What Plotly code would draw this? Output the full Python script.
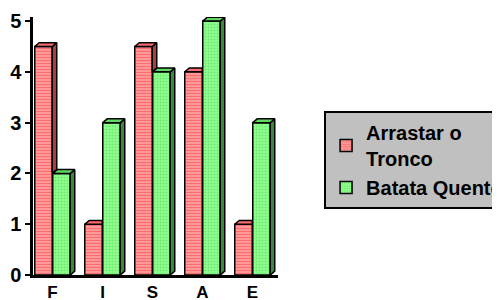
import plotly.graph_objects as go

categories = ["F", "I", "S", "A", "E"]
arrastar = [4.5, 1, 4.5, 4, 1]
batata = [2, 3, 4, 5, 3]
series_names = ["Arrastar o<br>Tronco", "Batata Quente"]
y_ticks = [0, 1, 2, 3, 4, 5]

xs = list(range(len(categories)))
off = 0.18
w = 0.35
dx = 0.09
dy = 0.075

FONT = "Liberation Sans, Arial, sans-serif"

fig = go.Figure()

fig.add_trace(go.Bar(
    x=[i - off for i in xs], y=arrastar, width=w, name=series_names[0],
    marker=dict(color="#ff8a8a", line=dict(color="black", width=1.5),
                pattern=dict(shape="-", fgcolor="#ff3030", bgcolor="#ffa8a8",
                             size=3, solidity=0.5)),
))
fig.add_trace(go.Bar(
    x=[i + off for i in xs], y=batata, width=w, name=series_names[1],
    marker=dict(color="#88ff88", line=dict(color="black", width=1.5),
                pattern=dict(shape=".", fgcolor="#50d050", bgcolor="#90ff90",
                             size=3, solidity=0.4)),
))


def faces(values, centers, other=None):
    sx, sy, tx, ty = [], [], [], []
    for k, (c, v) in enumerate(zip(centers, values)):
        x0, x1 = c - w / 2, c + w / 2
        lo = 0
        if other is not None:
            o = other[k]
            if o >= v:
                tx += [x0, x0 + dx, x1, x1, x0, None]
                ty += [v, v + dy, v + dy, v, v, None]
                continue
            lo = o
        sx += [x1, x1 + dx, x1 + dx, x1, x1, None]
        sy += [lo, lo + dy, v + dy, v, lo, None]
        tx += [x0, x0 + dx, x1 + dx, x1, x0, None]
        ty += [v, v + dy, v + dy, v, v, None]
    return sx, sy, tx, ty


rsx, rsy, rtx, rty = faces(arrastar, [i - off for i in xs], other=batata)
gsx, gsy, gtx, gty = faces(batata, [i + off for i in xs])

for fx, fy, col in [(rsx, rsy, "#a84040"), (rtx, rty, "#ff6a6a"),
                    (gsx, gsy, "#3a8a3a"), (gtx, gty, "#5ed85e")]:
    fig.add_trace(go.Scatter(
        x=fx, y=fy, mode="lines", fill="toself", fillcolor=col,
        line=dict(color="black", width=1.5), showlegend=False,
        hoverinfo="skip",
    ))

fig.update_layout(
    width=492, height=292,
    margin=dict(l=25, r=222, t=9, b=25, autoexpand=False),
    paper_bgcolor="white", plot_bgcolor="white",
    font=dict(family=FONT, size=19, color="black", weight="bold"),
    showlegend=True,
    barmode="overlay",
    legend=dict(
        x=1.188, y=0.636, xanchor="left", yanchor="top",
        bgcolor="#c0c0c0", bordercolor="black", borderwidth=2,
        font=dict(family=FONT, size=20, color="black", weight="bold"),
        itemwidth=30, tracegroupgap=4,
    ),
    xaxis=dict(
        range=[-0.39, 4.51], tickvals=xs, ticktext=categories,
        showline=True, linecolor="black", linewidth=3, ticks="",
        showgrid=False, zeroline=False, fixedrange=True,
        tickfont=dict(family=FONT, size=17, weight="bold"),
    ),
    yaxis=dict(
        range=[0, 5.08], tickvals=y_ticks,
        showline=True, linecolor="black", linewidth=2.5,
        ticks="outside", ticklen=5, tickwidth=2, tickcolor="black",
        showgrid=False, zeroline=False, fixedrange=True,
        tickfont=dict(family=FONT, size=20, weight="bold"),
    ),
)

fig.write_html("out.html")
